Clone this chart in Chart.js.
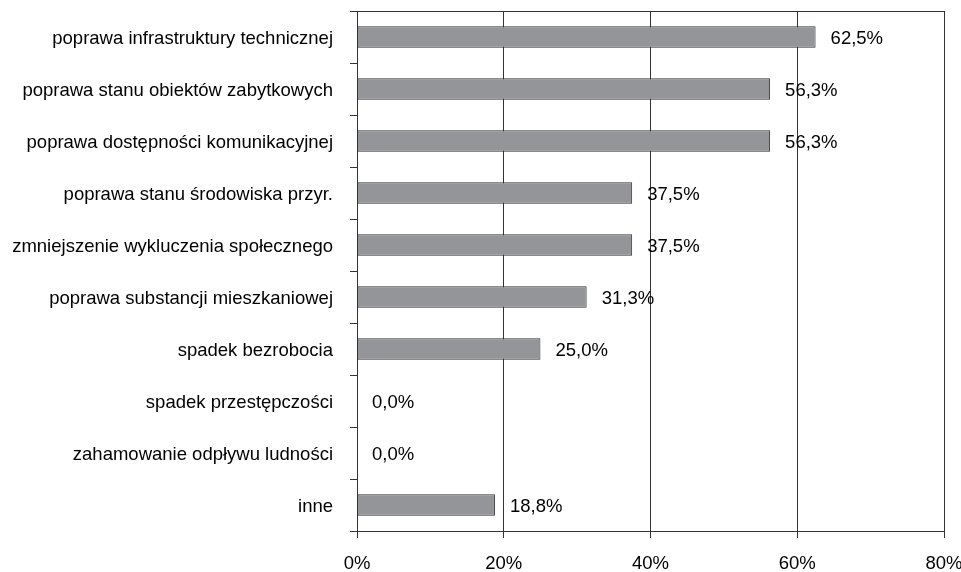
<!DOCTYPE html>
<html>
<head>
<meta charset="utf-8">
<script src="https://cdn.jsdelivr.net/npm/chart.js@4"></script>
<style>
  html, body { margin: 0; padding: 0; background: #fff; }
  #wrap { width: 961px; height: 572px; position: relative; }
</style>
</head>
<body>
<div id="wrap"><canvas id="c" width="961" height="572"></canvas></div>
<script>
const categories = [
  "poprawa infrastruktury technicznej",
  "poprawa stanu obiektów zabytkowych",
  "poprawa dostępności komunikacyjnej",
  "poprawa stanu środowiska przyr.",
  "zmniejszenie wykluczenia społecznego",
  "poprawa substancji mieszkaniowej",
  "spadek bezrobocia",
  "spadek przestępczości",
  "zahamowanie odpływu ludności",
  "inne"
];
const values = [62.5, 56.3, 56.3, 37.5, 37.5, 31.3, 25.0, 0.0, 0.0, 18.8];
const xTicks = [0, 20, 40, 60, 80];

const FONT = "'Liberation Sans', Arial, sans-serif";
const FSIZE = 18.5;

const valueLabels = {
  id: 'valueLabels',
  afterDatasetsDraw(chart) {
    const ctx = chart.ctx;
    const meta = chart.getDatasetMeta(0);
    ctx.save();
    ctx.font = FSIZE + "px " + FONT;
    ctx.fillStyle = "#000";
    ctx.textAlign = "left";
    ctx.textBaseline = "middle";
    meta.data.forEach((bar, i) => {
      const txt = values[i].toFixed(1).replace('.', ',') + '%';
      ctx.fillText(txt, bar.x + 15, bar.y + 2);
    });
    ctx.restore();
  }
};

const frame = {
  id: 'frame',
  afterDraw(chart) {
    const a = chart.chartArea;
    const ctx = chart.ctx;
    ctx.save();
    ctx.strokeStyle = "#333";
    ctx.lineWidth = 1;
    ctx.beginPath();
    ctx.moveTo(a.left, Math.round(a.top) + 0.5);
    ctx.lineTo(a.right, Math.round(a.top) + 0.5);
    ctx.stroke();
    ctx.restore();
  }
};

new Chart(document.getElementById('c'), {
  type: 'bar',
  data: {
    labels: categories,
    datasets: [{
      data: values,
      backgroundColor: '#939598',
      borderColor: '#333333',
      borderWidth: 1,
      borderSkipped: false,
      barPercentage: 0.41,
      categoryPercentage: 1.0
    }]
  },
  options: {
    indexAxis: 'y',
    responsive: false,
    animation: false,
    devicePixelRatio: 1,
    layout: { padding: { top: 11, right: 17, left: 0, bottom: 0 } },
    plugins: { legend: { display: false }, tooltip: { enabled: false } },
    scales: {
      x: {
        min: 0, max: 80,
        afterBuildTicks(scale) { scale.ticks = xTicks.map(v => ({ value: v })); },
        afterFit(scale) { scale.height = 41; scale.paddingLeft = 0; scale.paddingRight = 0; },
        ticks: {
          callback: v => v + '%',
          color: '#000',
          font: { size: FSIZE, family: FONT },
          padding: 15,
          maxRotation: 0
        },
        grid: { color: '#333', lineWidth: 1, tickLength: 7, drawTicks: true },
        border: { color: '#333', width: 1 }
      },
      y: {
        afterFit(scale) { scale.width = 357; scale.paddingTop = 0; scale.paddingBottom = 0; },
        ticks: {
          color: '#000',
          font: { size: FSIZE, family: FONT },
          padding: 17,
          labelOffset: 2,
          autoSkip: false
        },
        grid: { drawOnChartArea: false, color: '#333', tickLength: 7, offset: true },
        border: { color: '#333', width: 1 }
      }
    }
  },
  plugins: [valueLabels, frame]
});
</script>
</body>
</html>
